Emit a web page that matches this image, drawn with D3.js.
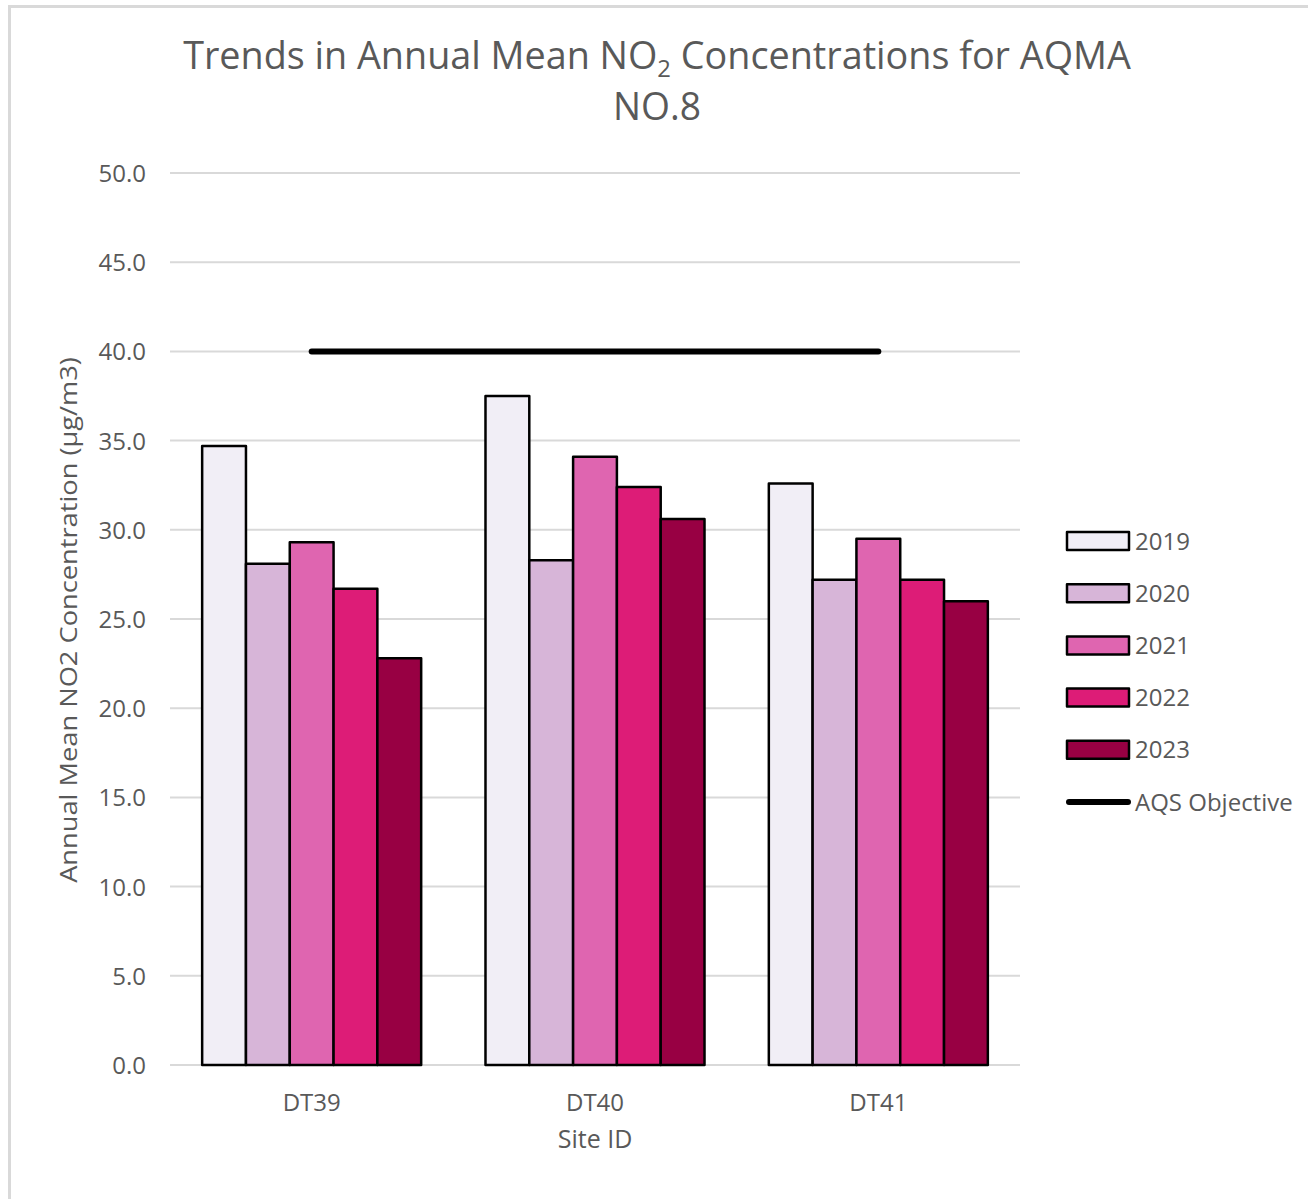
<!DOCTYPE html>
<html>
<head>
<meta charset="utf-8">
<script src="https://cdn.jsdelivr.net/npm/d3@7"></script>
<style>
  html, body { margin: 0; padding: 0; background: #fff; }
  svg { display: block; }
  text { font-family: "Open Sans", "Noto Sans", sans-serif; fill: #595959; }
</style>
</head>
<body>
<svg id="chart" width="1308" height="1199"></svg>
<script>
// Annual mean NO2 at each diffusion tube site, by year (µg/m3)
const sites = ["DT39", "DT40", "DT41"];
const years = ["2019", "2020", "2021", "2022", "2023"];
const values2019 = [34.7, 37.5, 32.6];
const values2020 = [28.1, 28.3, 27.2];
const values2021 = [29.3, 34.1, 29.5];
const values2022 = [26.7, 32.4, 27.2];
const values2023 = [22.8, 30.6, 26.0];
const seriesValues = [values2019, values2020, values2021, values2022, values2023];
const yearColors = ["#F1EEF6", "#D7B5D8", "#DF65B0", "#DD1C77", "#980043"];
const objectiveValue = 40;
const yTicks = [0, 5, 10, 15, 20, 25, 30, 35, 40, 45, 50];

const svg = d3.select("#chart");

// Chart area frame (top and left edges)
svg.append("path")
  .attr("d", "M9.5,1199 V6.5 H1308")
  .attr("fill", "none")
  .attr("stroke", "#d9d9d9")
  .attr("stroke-width", 3);

const plot = { left: 170, right: 1020, top: 173, bottom: 1065 };

const y = d3.scaleLinear().domain([0, 50]).range([plot.bottom, plot.top]);
const x0 = d3.scaleBand().domain(sites).range([plot.left, plot.right])
  .paddingInner(0.227).paddingOuter(0.1135);
const x1 = d3.scaleBand().domain(years).range([0, x0.bandwidth()]).padding(0);

// Horizontal gridlines
svg.append("g").selectAll("line").data(yTicks).join("line")
  .attr("x1", plot.left).attr("x2", plot.right)
  .attr("y1", d => y(d)).attr("y2", d => y(d))
  .attr("stroke", "#d9d9d9").attr("stroke-width", 2);

// Y axis tick labels
const yAxis = d3.axisLeft(y).tickValues(yTicks).tickFormat(d3.format(".1f")).tickSize(0).tickPadding(0);
const yAxisG = svg.append("g").attr("transform", `translate(146,0)`).call(yAxis);
yAxisG.select(".domain").remove();
yAxisG.selectAll("text")
  .attr("font-size", 24).attr("fill", "#595959")
  .attr("font-family", "'Open Sans', sans-serif")
  .attr("dy", "0.35em");

// Bars
const barData = [];
sites.forEach((s, i) => {
  years.forEach((yr, j) => {
    barData.push({ site: s, year: yr, value: seriesValues[j][i], color: yearColors[j] });
  });
});

svg.append("g").selectAll("rect").data(barData).join("rect")
  .attr("x", d => x0(d.site) + x1(d.year))
  .attr("y", d => y(d.value))
  .attr("width", x1.bandwidth())
  .attr("height", d => y(0) - y(d.value))
  .attr("fill", d => d.color)
  .attr("stroke", "#000")
  .attr("stroke-width", 2.5)
  .attr("stroke-linejoin", "round");

// AQS objective line across the site centres
const objLine = d3.line().x(d => x0(d) + x0.bandwidth() / 2).y(() => y(objectiveValue));
svg.append("path")
  .attr("d", objLine([sites[0], sites[sites.length - 1]]))
  .attr("stroke", "#000")
  .attr("stroke-width", 6)
  .attr("stroke-linecap", "round")
  .attr("fill", "none");

// X axis category labels
const xAxis = d3.axisBottom(x0).tickSize(0).tickPadding(0);
const xAxisG = svg.append("g").attr("transform", `translate(0,1111)`).call(xAxis);
xAxisG.select(".domain").remove();
xAxisG.selectAll("text")
  .attr("font-size", 24).attr("fill", "#595959")
  .attr("font-family", "'Open Sans', sans-serif")
  .attr("dy", 0);

// Axis titles
svg.append("text")
  .attr("x", 595).attr("y", 1148)
  .attr("text-anchor", "middle")
  .attr("font-size", 25)
  .text("Site ID");

const yTitle = svg.append("text")
  .attr("text-anchor", "middle")
  .attr("font-size", 24)
  .text("Annual Mean NO2 Concentration (µg/m3)");
fitWidth(yTitle, 526, 77, 620, -90);

// Chart title (two lines, subscript 2)
const title1 = svg.append("text")
  .attr("text-anchor", "middle")
  .attr("font-size", 38);
title1.append("tspan").text("Trends in Annual Mean NO");
title1.append("tspan").attr("font-size", 24).attr("dy", 8).text("2");
title1.append("tspan").attr("dy", -8).text(" Concentrations for AQMA");
fitWidth(title1, 948, 657, 69, 0);

const title2 = svg.append("text")
  .attr("text-anchor", "middle")
  .attr("font-size", 38)
  .text("NO.8");
fitWidth(title2, 88, 657, 120, 0);

// Legend
const legend = svg.append("g");
const legendY = d => 541 + d * 52.2;
years.forEach((yr, j) => {
  legend.append("rect")
    .attr("x", 1067).attr("y", legendY(j) - 9)
    .attr("width", 62).attr("height", 18)
    .attr("fill", yearColors[j])
    .attr("stroke", "#000").attr("stroke-width", 2.5)
    .attr("stroke-linejoin", "round");
  legend.append("text")
    .attr("x", 1135).attr("y", legendY(j)).attr("dy", "0.36em")
    .attr("font-size", 24)
    .text(yr);
});
legend.append("line")
  .attr("x1", 1069).attr("x2", 1128)
  .attr("y1", legendY(5)).attr("y2", legendY(5))
  .attr("stroke", "#000").attr("stroke-width", 6)
  .attr("stroke-linecap", "round");
legend.append("text")
  .attr("x", 1135).attr("y", legendY(5)).attr("dy", "0.36em")
  .attr("font-size", 24)
  .text("AQS Objective");

// Scale a text element along its own direction so it spans the given width,
// anchored at (tx, ty) and rotated by rot degrees
function fitWidth(sel, target, tx, ty, rot) {
  const w = sel.node().getComputedTextLength();
  const k = target / w;
  sel.attr("x", 0).attr("y", 0)
    .attr("transform", `translate(${tx},${ty}) rotate(${rot}) scale(${k},1)`);
}
</script>
</body>
</html>
